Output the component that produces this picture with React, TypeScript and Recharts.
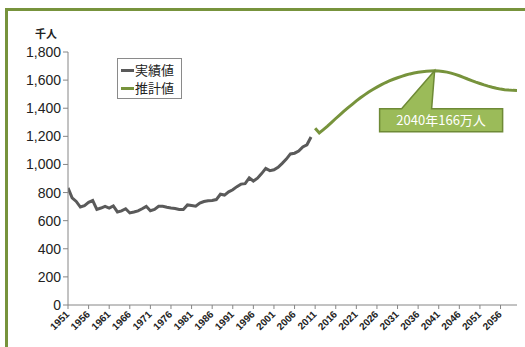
import React from "react";
import { LineChart, Line, XAxis, YAxis, ReferenceDot } from "recharts";

const actualStart = 1951;
const actualValues = [
  833, 762, 737, 697, 707, 730, 743, 680, 690, 702,
  690, 705, 662, 670, 685, 655, 662, 670, 685, 702,
  671, 680, 702, 702, 695, 690, 686, 680, 680, 712,
  708, 703, 725, 736, 742, 743, 750, 788, 782, 805,
  820, 842, 860, 863, 905, 882, 902, 935, 972, 956,
  962, 980, 1008, 1038, 1075, 1080, 1095, 1125, 1140, 1195,
];
const forecastStart = 2011;
const forecastValues = [
  1258, 1224, 1248, 1273, 1300, 1327, 1353, 1379, 1404, 1428,
  1452, 1474, 1495, 1515, 1533, 1550, 1566, 1581, 1594, 1606,
  1617, 1627, 1636, 1644, 1651, 1656, 1660, 1663, 1665, 1666,
  1665, 1662, 1657, 1650, 1641, 1631, 1620, 1608, 1597, 1586,
  1576, 1566, 1557, 1549, 1542, 1536, 1532, 1529, 1527, 1526,
];
const xTicks = [1951, 1956, 1961, 1966, 1971, 1976, 1981, 1986, 1991, 1996, 2001, 2006, 2011, 2016, 2021, 2026, 2031, 2036, 2041, 2046, 2051, 2056];
const yTicks = [0, 200, 400, 600, 800, 1000, 1200, 1400, 1600, 1800];
const seriesNames = ["実績値", "推計値"];
const calloutYear = 2040;
const calloutValue = 1666;
const calloutText = "2040年166万人";

const data: { year: number; actual?: number; forecast?: number }[] = [];
actualValues.forEach((v, i) => data.push({ year: actualStart + i, actual: v }));
forecastValues.forEach((v, i) => data.push({ year: forecastStart + i, forecast: v }));

const GRAY = "#5a5a5a";
const GREEN = "#77933c";
const FONT = "'Liberation Sans', Arial, 'Noto Sans CJK JP', sans-serif";
const CJK = "'Noto Sans CJK JP', sans-serif";

const XTick = (props: any) => {
  const { x, y, payload } = props;
  return (
    <text
      x={x + 2}
      y={y + 4}
      transform={`rotate(-45, ${x + 2}, ${y + 4})`}
      textAnchor="end"
      fontSize={10}
      fontWeight="bold"
      fill="#222"
      fontFamily={FONT}
    >
      {payload.value}
    </text>
  );
};

const LegendBox = () => (
  <div
    style={{
      position: "absolute",
      left: 117,
      top: 58,
      border: "1px solid #8a8a8a",
      background: "#fff",
      width: 65,
      height: 41,
      boxSizing: "border-box",
      paddingTop: 2,
      color: "#222",
      zIndex: 2,
    }}
  >
    {seriesNames.map((n, i) => (
      <div key={n} style={{ display: "flex", alignItems: "center", height: 18 }}>
        <div style={{ width: 13, height: 3, background: i === 0 ? GRAY : GREEN, marginLeft: 3, marginRight: 1 }} />
        <span style={{ fontFamily: CJK, fontSize: 13, lineHeight: "18px" }}>{n}</span>
      </div>
    ))}
  </div>
);

const Callout = (props: any) => {
  const { cx, cy } = props;
  if (cx == null || cy == null) return null;
  const bx0 = cx - 55;
  const bx1 = cx + 68;
  const by0 = cy + 38;
  const by1 = cy + 61;
  const d = `M${bx0},${by0} L${cx - 33},${by0} L${cx},${cy} L${cx - 3},${by0} L${bx1},${by0} L${bx1},${by1} L${bx0},${by1} Z`;
  return (
    <g>
      <path d={d} fill="#9bbb59" stroke="#6e8a36" strokeWidth={1.5} />
      <text
        x={(bx0 + bx1) / 2}
        y={(by0 + by1) / 2 + 4.5}
        textAnchor="middle"
        fill="#fff"
        fontSize={13}
        fontFamily={CJK}
      >
        {calloutText}
      </text>
    </g>
  );
};

export default function App() {
  return (
    <div style={{ position: "relative", width: 525, height: 347, background: "#fff", overflow: "hidden" }}>
      <style>{"body{margin:0}"}</style>
      <div
        style={{
          position: "absolute",
          left: 5,
          top: 8,
          width: 600,
          height: 400,
          borderTop: `3px solid ${GREEN}`,
          borderLeft: `3px solid ${GREEN}`,
        }}
      />
      <div
        style={{
          position: "absolute",
          left: 35,
          top: 25,
          fontSize: 11,
          fontWeight: "bold",
          fontFamily: CJK,
          color: "#222",
        }}
      >
        千人
      </div>
      <LineChart
        width={525}
        height={347}
        data={data}
        margin={{ top: 52, right: 8, bottom: 0, left: 0 }}
        style={{ position: "absolute", left: 0, top: 0 }}
      >
        <XAxis
          dataKey="year"
          type="number"
          domain={[1951, 2060]}
          ticks={xTicks}
          interval={0}
          height={42}
          stroke="#868686"
          tickSize={4}
          tick={<XTick />}
          allowDataOverflow
        />
        <YAxis
          domain={[0, 1800]}
          ticks={yTicks}
          width={68}
          stroke="#868686"
          tickSize={5}
          tickFormatter={(v: number) => v.toLocaleString("en-US")}
          tick={{ fontSize: 14, fill: "#222", fontFamily: FONT }}
        />
        <Line
          dataKey="actual"
          stroke={GRAY}
          strokeWidth={3}
          dot={false}
          type="linear"
          isAnimationActive={false}
          connectNulls={false}
        />
        <Line
          dataKey="forecast"
          stroke={GREEN}
          strokeWidth={3}
          dot={false}
          type="linear"
          isAnimationActive={false}
          connectNulls={false}
        />
        <ReferenceDot x={calloutYear} y={calloutValue} r={0} shape={<Callout />} ifOverflow="visible" />
      </LineChart>
      <LegendBox />
    </div>
  );
}
